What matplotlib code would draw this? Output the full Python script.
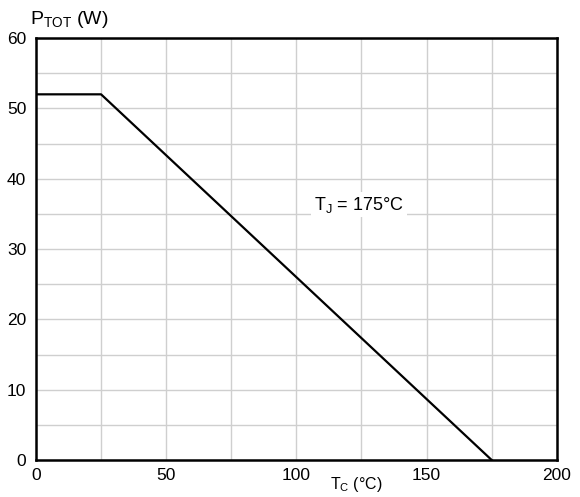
import matplotlib
matplotlib.use('Agg')
import matplotlib.pyplot as plt

plt.rcParams['font.family'] = ['Liberation Sans', 'DejaVu Sans']
plt.rcParams['mathtext.fontset'] = 'custom'
plt.rcParams['mathtext.rm'] = 'Liberation Sans'
plt.rcParams['mathtext.it'] = 'Liberation Sans'

# derating curve
tc = [0, 25, 175]
ptot = [52, 52, 0]
xticks = [0, 50, 100, 150, 200]
yticks = [0, 10, 20, 30, 40, 50, 60]

fig = plt.figure(figsize=(5.8, 4.97), dpi=100)
ax = fig.add_axes([0.062, 0.0744, 0.898, 0.849])

ax.plot(tc, ptot, color='black', lw=1.6, zorder=3)

ax.set_xlim(0, 200)
ax.set_ylim(0, 60)
ax.set_xticks(xticks)
ax.set_yticks(yticks)
ax.set_xticks(range(0, 201, 25), minor=True)
ax.set_yticks(range(0, 61, 5), minor=True)
ax.grid(which='both', color='#cfcfcf', lw=1)
ax.tick_params(which='both', length=0, labelsize=12.5)
ax.tick_params(axis='x', pad=6)
ax.tick_params(axis='y', pad=7)
for s in ax.spines.values():
    s.set_linewidth(1.8)

ax.text(124, 36.3, r'T$_\mathrm{J}$ = 175°C', fontsize=13, ha='center', va='center',
        bbox=dict(facecolor='white', edgecolor='none', pad=2), zorder=4)

fig.text(0.052, 0.952, r'P$_\mathrm{TOT}$ (W)', fontsize=14, ha='left', va='baseline')
fig.text(0.615, 0.006, r'T$_\mathrm{C}$ (°C)', fontsize=11.5, ha='center', va='bottom')

fig.savefig('out.png', dpi=100)
